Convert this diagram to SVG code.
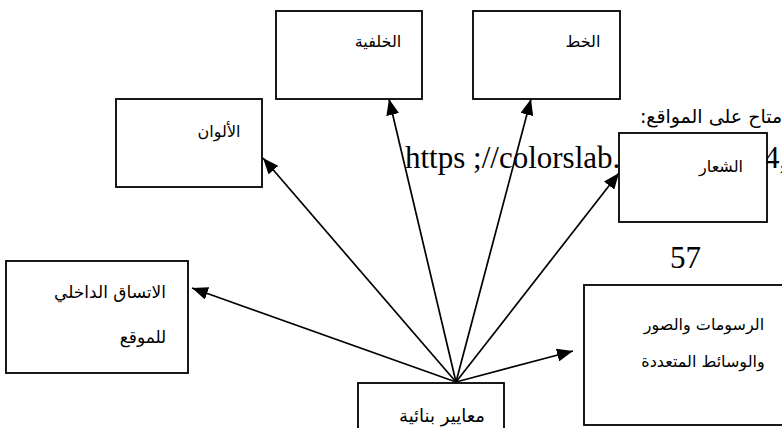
<svg xmlns="http://www.w3.org/2000/svg" width="782" height="428" viewBox="0 0 782 428">
<defs>
<style>
.box{fill:#fff;stroke:#000;stroke-width:1.8}
.ar{font-family:"DejaVu Sans",sans-serif;font-size:16px;fill:#000;text-anchor:middle;direction:rtl}
.lat{font-family:"Liberation Serif",serif;font-size:31px;fill:#000}
.con{stroke:#000;stroke-width:1.7;fill:none;marker-end:url(#ah)}
</style>
<marker id="ah" viewBox="0 0 16 12" refX="16" refY="6" markerWidth="16" markerHeight="13" markerUnits="userSpaceOnUse" orient="auto" preserveAspectRatio="none">
<path d="M0,0 L16,6 L0,12 Z" fill="#000"/>
</marker>
</defs>
<rect width="782" height="428" fill="#fff"/>
<g id="page-text">
<text class="ar" x="711" y="123" style="font-size:19px">متاح على المواقع:</text>
<text class="lat" x="405" y="168">https ;//colorslab.</text>
<text class="lat" x="764" y="168">4,</text>
<text class="lat" x="670" y="268">57</text>
</g>
<g id="connectors">
<line class="con" x1="456" y1="382" x2="192" y2="288"/>
<line class="con" x1="456" y1="382" x2="263" y2="158"/>
<line class="con" x1="456" y1="382" x2="389" y2="99"/>
<line class="con" x1="456" y1="382" x2="531" y2="99"/>
<line class="con" x1="456" y1="382" x2="619" y2="173"/>
<line class="con" x1="456" y1="382" x2="573" y2="351"/>
</g>
<g id="node-alwan"><rect class="box" x="116" y="99" width="146" height="88"/><text class="ar" x="219" y="137">الألوان</text></g>
<g id="node-khalfiya"><rect class="box" x="276" y="11" width="146" height="88"/><text class="ar" x="378" y="47">الخلفية</text></g>
<g id="node-khat"><rect class="box" x="473" y="11" width="147" height="88"/><text class="ar" x="583" y="47">الخط</text></g>
<g id="node-shiar"><rect class="box" x="619" y="133" width="148" height="89"/><text class="ar" x="721" y="172">الشعار</text></g>
<g id="node-ittisaq"><rect class="box" x="6" y="261" width="182" height="112"/><text class="ar" x="110" y="298" style="font-size:17px">الاتساق الداخلي</text><text class="ar" x="143" y="343" style="font-size:17px">للموقع</text></g>
<g id="node-rusumat"><rect class="box" x="584" y="285" width="210" height="140"/><text class="ar" x="704" y="330">الرسومات والصور</text><text class="ar" x="703" y="367">والوسائط المتعددة</text></g>
<g id="node-maayir"><rect class="box" x="358" y="383" width="146" height="60"/><text class="ar" x="442" y="422" style="font-size:18px">معايير بنائية</text></g>
</svg>
